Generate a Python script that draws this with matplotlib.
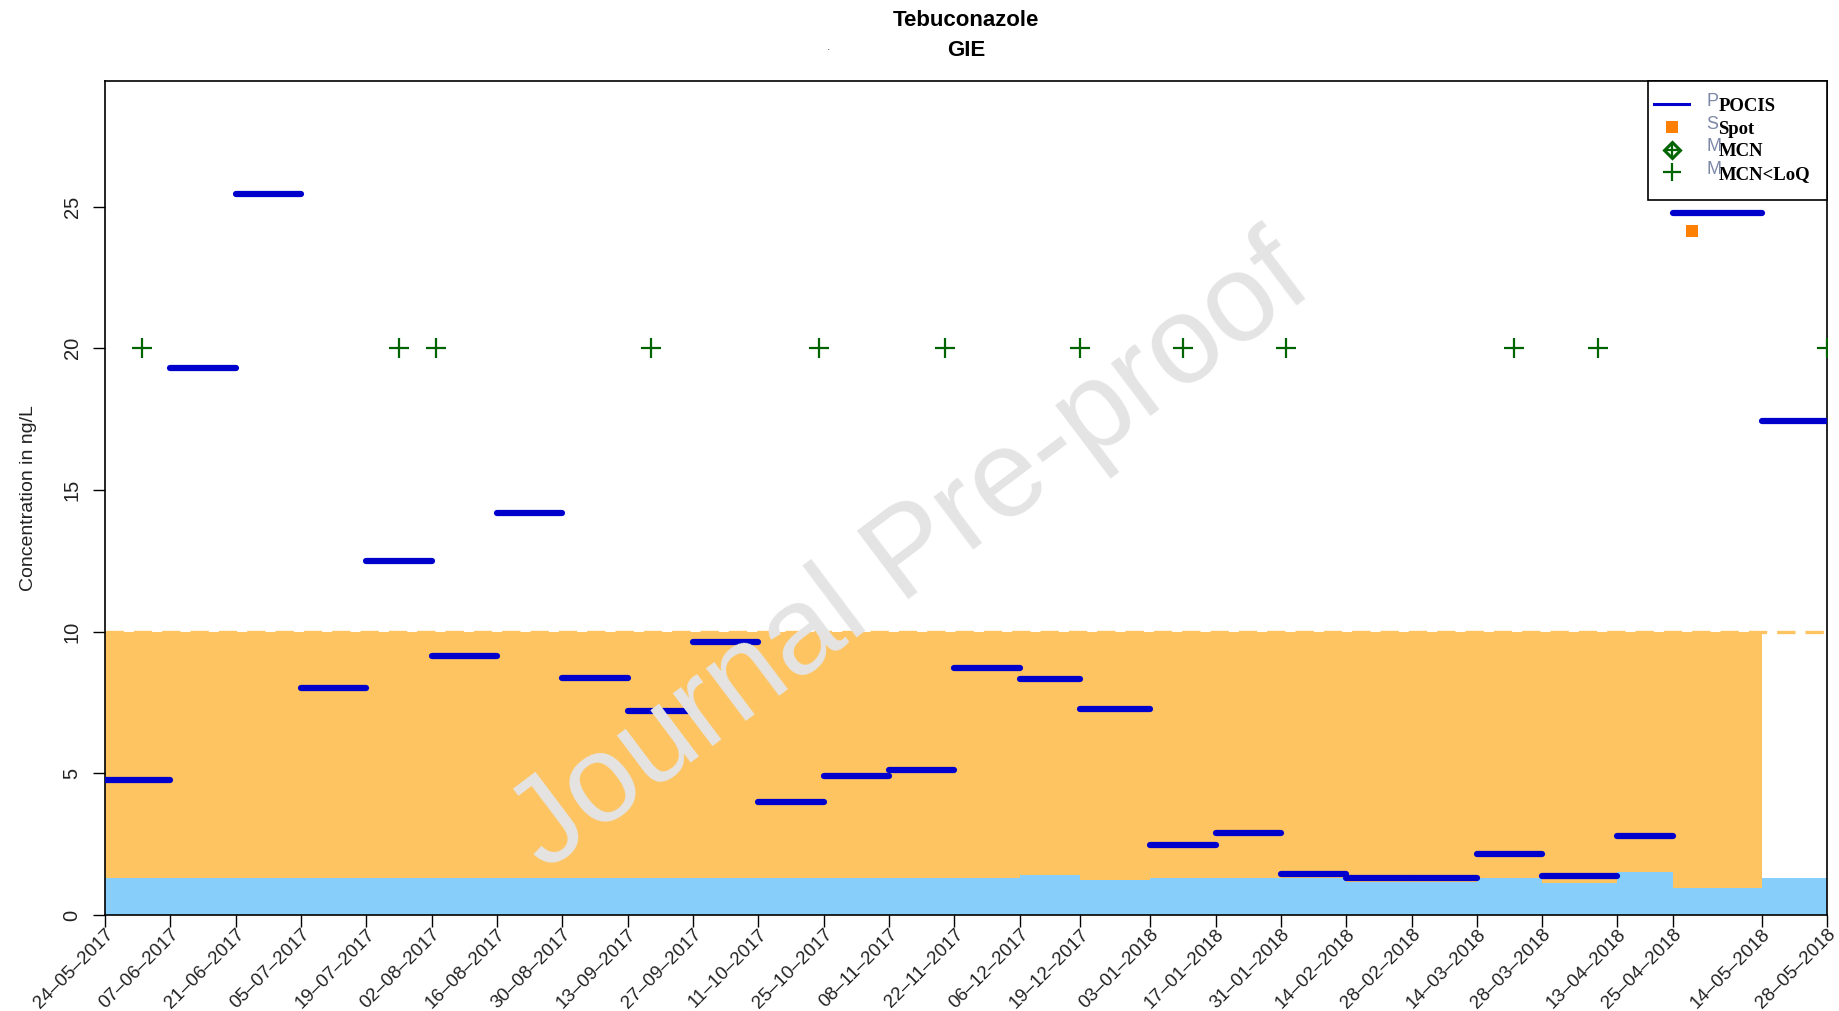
import matplotlib
matplotlib.use('Agg')
import matplotlib.pyplot as plt
import matplotlib.dates as mdates
from matplotlib.lines import Line2D
from matplotlib.legend_handler import HandlerTuple, HandlerLine2D
from datetime import datetime

plt.rcParams['font.family'] = ['Liberation Sans', 'DejaVu Sans']

# ---------------- data ----------------
tick_dates = ["24-05-2017", "07-06-2017", "21-06-2017", "05-07-2017", "19-07-2017",
              "02-08-2017", "16-08-2017", "30-08-2017", "13-09-2017", "27-09-2017",
              "11-10-2017", "25-10-2017", "08-11-2017", "22-11-2017", "06-12-2017",
              "19-12-2017", "03-01-2018", "17-01-2018", "31-01-2018", "14-02-2018",
              "28-02-2018", "14-03-2018", "28-03-2018", "13-04-2018", "25-04-2018",
              "14-05-2018", "28-05-2018"]

pocis_start = ["24-05-2017", "07-06-2017", "21-06-2017", "05-07-2017", "19-07-2017",
               "02-08-2017", "16-08-2017", "30-08-2017", "13-09-2017", "27-09-2017",
               "11-10-2017", "25-10-2017", "08-11-2017", "22-11-2017", "06-12-2017",
               "19-12-2017", "03-01-2018", "17-01-2018", "31-01-2018", "14-02-2018",
               "28-02-2018", "14-03-2018", "28-03-2018", "13-04-2018", "25-04-2018",
               "14-05-2018"]
pocis_end = ["07-06-2017", "21-06-2017", "05-07-2017", "19-07-2017", "02-08-2017",
             "16-08-2017", "30-08-2017", "13-09-2017", "27-09-2017", "11-10-2017",
             "25-10-2017", "08-11-2017", "22-11-2017", "06-12-2017", "19-12-2017",
             "03-01-2018", "17-01-2018", "31-01-2018", "14-02-2018", "28-02-2018",
             "14-03-2018", "28-03-2018", "13-04-2018", "25-04-2018", "14-05-2018",
             "28-05-2018"]
pocis_values = [4.75, 19.3, 25.45, 8.0, 12.5, 9.15, 14.2, 8.35, 7.2, 9.65,
                4.0, 4.9, 5.12, 8.72, 8.32, 7.28, 2.47, 2.9, 1.43, 1.3,
                1.3, 2.14, 1.39, 2.8, 24.78, 17.42]

# lower band (light blue) per sampling interval
band_values = [1.32, 1.32, 1.32, 1.32, 1.32, 1.32, 1.32, 1.32, 1.32, 1.32,
               1.32, 1.32, 1.32, 1.32, 1.41, 1.24, 1.32, 1.32, 1.32, 1.18,
               1.18, 1.32, 1.12, 1.53, 0.97, 1.32]

# upper band (orange)
orange_edges = ["24-05-2017", "14-05-2018"]
orange_values = [10.0]
limit_value = 10.0

spot_dates = ["29-04-2018"]
spot_values = [24.15]

loq_dates = ["01-06-2017", "26-07-2017", "03-08-2017", "18-09-2017", "24-10-2017",
             "20-11-2017", "19-12-2017", "10-01-2018", "01-02-2018", "22-03-2018",
             "09-04-2018", "28-05-2018"]
loq_values = [20, 20, 20, 20, 20, 20, 20, 20, 20, 20, 20, 20]

legend_labels = ["POCIS", "Spot", "MCN", "MCN<LoQ"]
legend_ghosts = ["P", "S", "M", "M"]


def d(s):
    return mdates.date2num(datetime.strptime(s, "%d-%m-%Y"))


# ---------------- figure ----------------
W, H = 1840, 1011
fig = plt.figure(figsize=(W / 100, H / 100), dpi=100)
ax = fig.add_axes([105 / W, 96 / H, 1722 / W, 834 / H])

C_ORANGE = '#FEC462'
C_SKY = '#87CEFA'
C_BLUE = '#0000CD'
C_GREEN = '#006400'
C_SPOT = '#FF8000'

ax.stairs(orange_values, [d(s) for s in orange_edges], baseline=0, fill=True,
          color=C_ORANGE, zorder=1, lw=0)
ax.stairs(band_values, [d(s) for s in tick_dates], baseline=0, fill=True,
          color=C_SKY, zorder=2, lw=0)
ax.axhline(limit_value, color=C_ORANGE, lw=2.4, dashes=(5.5, 3), zorder=2.5)

ax.hlines(pocis_values, [d(s) for s in pocis_start], [d(s) for s in pocis_end],
          colors=C_BLUE, lw=4.5, capstyle='round', zorder=3)

ax.plot([d(s) for s in spot_dates], spot_values, ls='none', marker='s', ms=8,
        color=C_SPOT, mew=0, zorder=4)
ax.plot([d(s) for s in loq_dates], loq_values, ls='none', marker='+', ms=15,
        mew=1.6, color=C_GREEN, zorder=4)

ax.set_xlim(d(tick_dates[0]), d(tick_dates[-1]))
ax.set_ylim(0, 29.43)

ax.set_xticks([d(s) for s in tick_dates])
ax.set_xticklabels([s.replace('-', '\u2013') for s in tick_dates], rotation=45,
                   ha='right', va='top', rotation_mode='anchor', fontsize=13.5,
                   color='#222222')
ax.set_yticks([0, 5, 10, 15, 20, 25])
ax.set_yticklabels(['0', '5', '10', '15', '20', '25'], rotation=90, va='center',
                   fontsize=14.5, color='#222222')
ax.tick_params(axis='x', length=8.3, width=1, pad=-0.5)
ax.tick_params(axis='y', length=8.3, width=1, pad=8.5)
ax.set_ylabel('Concentration in ng/L', fontsize=14, color='#222222')
ax.yaxis.set_label_coords(-0.0395, 0.5)
for sp in ax.spines.values():
    sp.set_linewidth(1.2)

# legend
XP = -0.58
h_pocis = Line2D([], [], color=C_BLUE, lw=2.2)
h_spot = Line2D([], [], ls='none', marker='s', color=C_SPOT, ms=8, mew=0)
h_mcn = (Line2D([], [], ls='none', marker='D', mfc='none', mec=C_GREEN, ms=8.5, mew=2.2),
         Line2D([], [], ls='none', marker='+', color=C_GREEN, ms=8.5, mew=1.6))
h_loq = Line2D([], [], ls='none', marker='+', color=C_GREEN, ms=13, mew=1.6)
leg = ax.legend([h_pocis, h_spot, h_mcn, h_loq], legend_labels, loc='upper right',
                bbox_to_anchor=(1, 1), borderaxespad=0, fancybox=False,
                edgecolor='black', framealpha=1,
                prop=dict(family='Liberation Serif', weight='bold', size=13.5),
                handlelength=1.29, handletextpad=1.55, labelspacing=0.29,
                borderpad=0.9,
                handler_map={tuple: HandlerTuple(ndivide=1, xpad=XP),
                             Line2D: HandlerLine2D(xpad=XP)})
leg.get_frame().set_linewidth(1.2)
leg.set_zorder(20)

# titles
cx = (105 + 1827) / 2 / W
fig.text(cx, 1 - 21 / H, 'Tebuconazole', ha='center', va='center',
         fontsize=16, fontweight='bold')
fig.text(cx, 1 - 51 / H, 'GIE', ha='center', va='center',
         fontsize=16, fontweight='bold')
fig.text(829 / W, 1 - 50 / H, '.', ha='center', va='baseline', fontsize=9,
         color='#555555')

# watermark
fig.text(912 / W, 1 - 556 / H, 'Journal Pre-proof', ha='center', va='center',
         rotation=37, fontsize=90, color='#E4E4E4', zorder=30)

# ghost letters in legend
fig.canvas.draw()
r = fig.canvas.get_renderer()
for t, g in zip(leg.get_texts(), legend_ghosts):
    bb = t.get_window_extent(r)
    fig.text((bb.x0 - 12) / W, (bb.y0 + bb.height / 2 + 5) / H, g, ha='left',
             va='center', fontsize=13, color='#7D88A8', zorder=25)

fig.savefig('out.png', dpi=100)
